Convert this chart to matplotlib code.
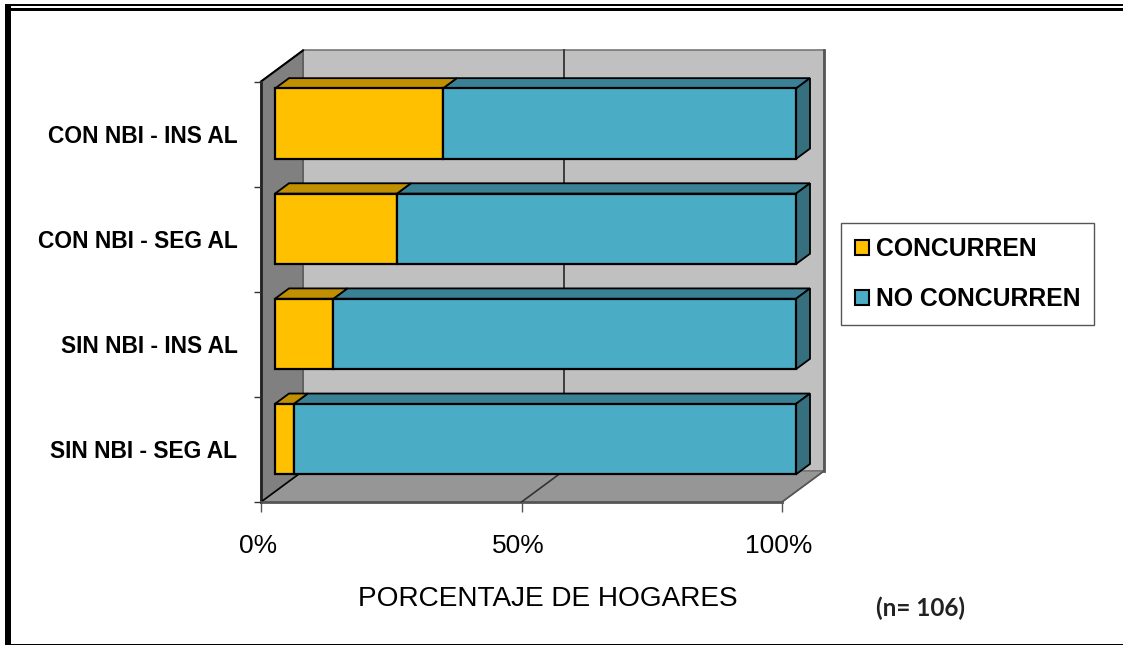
import matplotlib
matplotlib.use("Agg")
import matplotlib.pyplot as plt
from matplotlib.patches import Polygon, Patch, Rectangle
from matplotlib.transforms import Affine2D

plt.rcParams['font.family'] = ['Liberation Sans', 'DejaVu Sans']

categorias = ['CON NBI - INS AL', 'CON NBI - SEG AL', 'SIN NBI - INS AL', 'SIN NBI - SEG AL']
concurren = [32.2, 23.4, 11.2, 3.6]
no_concurren = [67.8, 76.6, 88.8, 96.4]
ticks_x = [0, 50, 100]
ticks_x_txt = ['0%', '50%', '100%']

AMARILLO, AMARILLO_TOP = '#FFC000', '#C09000'
AZUL, AZUL_TOP, AZUL_LADO = '#4BACC6', '#3B8196', '#36707F'

# profundidad del efecto 3D, en unidades de datos
DX = 42 / 5.21
DY = -31 / 105.0
ANCHO = 0.67

W, H = 1123, 645
fig = plt.figure(figsize=(W / 100, H / 100), dpi=100)
ax = fig.add_axes([261 / W, 1 - 502 / H, 521 / W, 420.5 / H])
ax.set_xlim(0, 100)
ax.set_ylim(3.5, -0.5)
ax.patch.set_visible(False)
for s in ax.spines.values():
    s.set_visible(False)


def p(x, y, d):
    return (x + d * DX, y + d * DY)


def cara(puntos, color, ec='black', lw=1.3, z=2):
    ax.add_patch(Polygon(puntos, closed=True, facecolor=color, edgecolor=ec,
                         linewidth=lw, zorder=z, clip_on=False, joinstyle='miter'))


# paredes y piso
y0, y1 = -0.5, 3.5
cara([p(0, y0, 1), p(100, y0, 1), p(100, y1, 1), p(0, y1, 1)], '#C0C0C0', ec='#777777', lw=1.2, z=1)
cara([p(0, y0, 0), p(0, y0, 1), p(0, y1, 1), p(0, y1, 0)], '#808080', ec='#555555', lw=1.0, z=1)
cara([p(0, y1, 0), p(0, y1, 1), p(100, y1, 1), p(100, y1, 0)], '#969696', ec='#707070', lw=1.0, z=1)
ax.plot(*zip(p(0, y0, 0), p(0, y0, 1)), color='black', lw=1.5, zorder=1.5, clip_on=False)
ax.plot(*zip(p(0, y0, 0), p(0, y1, 0)), color='#222222', lw=2, zorder=1.5, clip_on=False)
ax.plot(*zip(p(0, y1, 0), p(0, y1, 1)), color='black', lw=1.2, zorder=1.5, clip_on=False)
ax.plot(*zip(p(0, y1, 0), p(100, y1, 0)), color='#555555', lw=2, zorder=1.5, clip_on=False)
ax.plot(*zip(p(100, y0, 1), p(100, y1, 1)), color='#555555', lw=2, zorder=1.5, clip_on=False)
ax.plot(*zip(p(100, y1, 0), p(100, y1, 1)), color='#555555', lw=1.2, zorder=1.5, clip_on=False)
ax.plot(*zip(p(50, y0, 1), p(50, y1, 1)), color='#333333', lw=1.3, zorder=1.5, clip_on=False)
ax.plot(*zip(p(50, y1, 0), p(50, y1, 1)), color='#333333', lw=1.2, zorder=1.5, clip_on=False)

# barras apiladas con sus caras superior y lateral
for i in range(len(categorias)):
    a, b = concurren[i], concurren[i] + no_concurren[i]
    top, bot = i - ANCHO / 2, i + ANCHO / 2
    cara([p(a, top, 1 / 3), p(b, top, 1 / 3), p(b, top, 2 / 3), p(a, top, 2 / 3)], AZUL_TOP, z=2)
    cara([p(0, top, 1 / 3), p(a, top, 1 / 3), p(a, top, 2 / 3), p(0, top, 2 / 3)], AMARILLO_TOP, z=2)
    cara([p(b, top, 1 / 3), p(b, top, 2 / 3), p(b, bot, 2 / 3), p(b, bot, 1 / 3)], AZUL_LADO, z=2)

ys = [i + DY / 3 for i in range(len(categorias))]
ax.barh(ys, concurren, height=ANCHO, left=DX / 3, color=AMARILLO,
        edgecolor='black', linewidth=1.6, zorder=3, clip_on=False)
ax.barh(ys, no_concurren, height=ANCHO, left=[c + DX / 3 for c in concurren], color=AZUL,
        edgecolor='black', linewidth=1.6, zorder=3, clip_on=False)

# ejes
ax.set_yticks(range(len(categorias)))
ax.set_yticklabels(categorias, fontsize=16.4, fontweight='bold')
ax.tick_params(axis='y', which='major', length=0, pad=17)
ax.set_yticks([-0.5, 0.5, 1.5, 2.5, 3.5], minor=True)
ax.tick_params(axis='y', which='minor', length=5, width=1, color='#333333')
ax.set_xticks(ticks_x)
ax.set_xticklabels(ticks_x_txt, fontsize=19)
ax.tick_params(axis='x', length=7.5, width=1, color='#555555', pad=15.5)
desplaza = Affine2D().translate(-3, 0)
for t in ax.get_xticklabels():
    t.set_transform(t.get_transform() + desplaza)
ax.set_xlabel('PORCENTAJE DE HOGARES', fontsize=20.2)
ax.xaxis.set_label_coords(0.55, -0.2)

# leyenda
fig.legend(handles=[Patch(facecolor=AMARILLO, edgecolor='black', linewidth=1.5, label='CONCURREN'),
                    Patch(facecolor=AZUL, edgecolor='black', linewidth=1.5, label='NO CONCURREN')],
           loc='upper left', bbox_to_anchor=(841 / W, 1 - 223 / H), bbox_transform=fig.transFigure,
           borderaxespad=0, fancybox=False, framealpha=1, edgecolor='#555555',
           prop={'size': 17.8, 'weight': 'bold'}, handlelength=0.57, handleheight=0.57,
           handletextpad=0.27, labelspacing=1.06, borderpad=0.56)

fig.text(920.5 / W, 1 - 608 / H, '(n= 106)', fontsize=17.5, fontweight='bold', family='Lato',
         ha='center', va='center', color='#222222')

# marco de la imagen
px = Affine2D().scale(1 / W, -1 / H).translate(0, 1) + fig.transFigure
for x, y, w, h in [(5, 4, W - 5, 2), (5, 8, W - 5, 3), (5, 4, 6, 640), (5, 644, W - 5, 1)]:
    fig.add_artist(Rectangle((x, y), w, h, transform=px, facecolor='black', edgecolor='none'))

fig.savefig('out.png', dpi=100)
